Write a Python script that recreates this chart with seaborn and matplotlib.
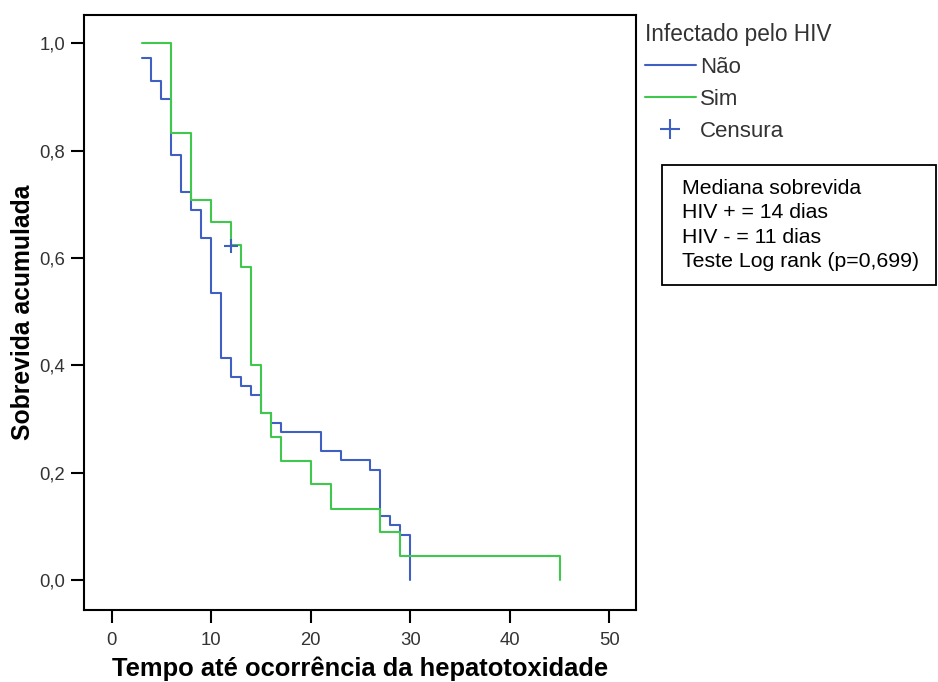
import matplotlib
matplotlib.use("Agg")
import matplotlib.pyplot as plt
import pandas as pd
import seaborn as sns
from matplotlib.lines import Line2D
from matplotlib.patches import Rectangle

# Kaplan-Meier steps (time in days, cumulative survival)
nao_tempo = [3, 4, 5, 6, 7, 8, 9, 10, 11, 12, 13, 14, 15, 16, 17, 21, 23, 26, 27, 28, 29, 30]
nao_surv = [0.973, 0.930, 0.896, 0.792, 0.723, 0.689, 0.637, 0.535, 0.414, 0.379, 0.362,
            0.344, 0.311, 0.292, 0.275, 0.241, 0.223, 0.205, 0.119, 0.102, 0.084, 0.0]
sim_tempo = [3, 6, 8, 10, 12, 13, 14, 15, 16, 17, 20, 22, 27, 29, 45]
sim_surv = [1.0, 0.833, 0.708, 0.667, 0.625, 0.583, 0.401, 0.312, 0.267, 0.222,
            0.178, 0.133, 0.089, 0.044, 0.0]
censura_tempo = [12]
censura_surv = [0.623]

grupos = ["Não", "Sim"]
cores = {"Não": "#3f5fc2", "Sim": "#3fc84c"}
x_ticks = [0, 10, 20, 30, 40, 50]
y_ticks = [0.0, 0.2, 0.4, 0.6, 0.8, 1.0]
caixa_linhas = ["Mediana sobrevida", "HIV + = 14 dias", "HIV - = 11 dias",
                "Teste Log rank (p=0,699)"]

df = pd.concat([
    pd.DataFrame({"tempo": nao_tempo, "surv": nao_surv, "grupo": "Não"}),
    pd.DataFrame({"tempo": sim_tempo, "surv": sim_surv, "grupo": "Sim"}),
], ignore_index=True)

sns.set_style("white")
plt.rcParams["font.family"] = ["Liberation Sans", "DejaVu Sans"]

W, H = 938, 682
fig = plt.figure(figsize=(W / 100, H / 100), dpi=100)
ax = fig.add_axes([84 / W, 72 / H, 552 / W, 595 / H])

sns.lineplot(data=df, x="tempo", y="surv", hue="grupo", hue_order=grupos,
             palette=cores, estimator=None, drawstyle="steps-post",
             linewidth=1.5, legend=False, ax=ax)
ax.scatter(censura_tempo, censura_surv, marker="+", s=110, linewidths=1.5,
           color=cores["Não"], zorder=3)

ax.set_xlim(-2.78, 52.68)
ax.set_ylim(-0.056, 1.053)
ax.set_xticks(x_ticks)
ax.set_yticks(y_ticks)
ax.set_yticklabels([f"{v:.1f}".replace(".", ",") for v in y_ticks])
ax.tick_params(axis="both", direction="out", length=9.5, width=1.5,
               bottom=True, left=True, colors="black", labelcolor="#333333",
               labelsize=13.3, pad=4)
ax.tick_params(axis="x", pad=6)
for sp in ax.spines.values():
    sp.set_linewidth(1.5)
    sp.set_color("black")

ax.set_xlabel("Tempo até ocorrência da hepatotoxidade", fontsize=18.4,
              fontweight="bold", labelpad=6, color="black")
ax.set_ylabel("Sobrevida acumulada", fontsize=17.8, fontweight="bold",
              labelpad=3.5, color="black")

handles = [
    Line2D([], [], color=cores["Não"], lw=1.5),
    Line2D([], [], color=cores["Sim"], lw=1.5),
    Line2D([], [], color=cores["Não"], lw=0, marker="+", markersize=14,
           markeredgewidth=1.5),
]
leg = fig.legend(handles, ["Não", "Sim", "Censura"], title="Infectado pelo HIV",
                 loc="upper left", bbox_to_anchor=(629 / W, 1 - 7 / H),
                 frameon=False, fontsize=16, title_fontsize=16.3,
                 handlelength=2.3, handletextpad=0.18, labelspacing=0.5,
                 borderpad=0.2)
leg._legend_box.align = "left"
for t in leg.get_texts():
    t.set_color("#333333")
leg.get_title().set_color("#333333")

fig.patches.append(Rectangle((662 / W, 1 - 285 / H), 274 / W, 120 / H,
                             transform=fig.transFigure, fill=False,
                             edgecolor="black", linewidth=1.3))
fig.text(682 / W, 1 - 179 / H, "\n".join(caixa_linhas), ha="left", va="top",
         fontsize=15.3, linespacing=1.36, color="black")

fig.savefig("out.png", dpi=100)
